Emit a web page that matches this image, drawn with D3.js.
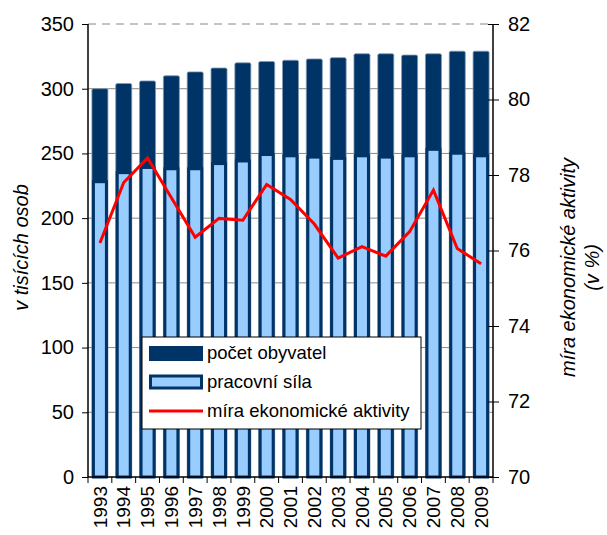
<!DOCTYPE html>
<html lang="cs">
<head>
<meta charset="UTF-8">
<title>Chart</title>
<style>
  body { margin: 0; background: #fff; }
  svg { display: block; font-family: "Liberation Sans", Arial, sans-serif; }
</style>
</head>
<body>
<svg id="chart"></svg>
<script src="https://cdnjs.cloudflare.com/ajax/libs/d3/7.8.5/d3.min.js"></script>
<script>
// data
var years = ["1993","1994","1995","1996","1997","1998","1999","2000","2001","2002","2003","2004","2005","2006","2007","2008","2009"];
var population = [300, 304, 306, 310, 313, 316, 320, 321, 322, 323, 324, 327, 327, 326, 327, 329, 329];
var labourForce = [227, 234, 238, 237, 237, 241, 243, 248, 247, 246, 245, 247, 246, 247, 252, 249, 247];
var activityRate = [76.2, 77.8, 78.45, 77.4, 76.35, 76.85, 76.8, 77.75, 77.35, 76.7, 75.8, 76.1, 75.85, 76.5, 77.6, 76.05, 75.65];
var leftTicks = [0, 50, 100, 150, 200, 250, 300, 350];
var rightTicks = [70, 72, 74, 76, 78, 80, 82];
var legendLabels = ["počet obyvatel", "pracovní síla", "míra ekonomické aktivity"];

var width = 607, height = 535;
var margin = {top: 24, right: 114, bottom: 58, left: 88};
var plotW = width - margin.left - margin.right,
    plotH = height - margin.top - margin.bottom;

var dark = "#003366", light = "#99ccff";

var svg = d3.select("#chart").attr("width", width).attr("height", height);
var g = svg.append("g").attr("transform", "translate(" + margin.left + "," + margin.top + ")");

var x = d3.scaleBand().domain(years).range([0, plotW]).padding(0);
var yL = d3.scaleLinear().domain([0, 350]).range([plotH, 0]);
var yR = d3.scaleLinear().domain([70, 82]).range([plotH, 0]);

// gridlines
g.selectAll(".grid").data(leftTicks.filter(function(d) { return d > 0; }))
  .enter().append("line")
  .attr("x1", 0).attr("x2", plotW)
  .attr("y1", function(d) { return yL(d); }).attr("y2", function(d) { return yL(d); })
  .attr("stroke", "#888").attr("stroke-width", 1)
  .attr("stroke-dasharray", function(d) { return d === 350 ? "8,6" : null; });

var barW = 16;
// population bars
g.selectAll(".pop").data(population).enter().append("rect")
  .attr("x", function(d, i) { return x(years[i]) + x.bandwidth() / 2 - barW / 2; })
  .attr("y", function(d) { return yL(d); })
  .attr("width", barW)
  .attr("height", function(d) { return plotH - yL(d); })
  .attr("fill", dark)
  .attr("stroke", "#7f99b2").attr("stroke-width", 0.8)
  .attr("rx", 1.5);

// labour force bars (light fill starts at the value, dark border around it)
g.selectAll(".lab").data(labourForce).enter().append("rect")
  .attr("x", function(d, i) { return x(years[i]) + x.bandwidth() / 2 - barW / 2 + 1.5; })
  .attr("y", function(d) { return yL(d) - 1.5; })
  .attr("width", barW - 3)
  .attr("height", function(d) { return plotH - yL(d) + 1.5; })
  .attr("fill", light)
  .attr("stroke", dark).attr("stroke-width", 3);

// activity rate line
var line = d3.line()
  .x(function(d, i) { return x(years[i]) + x.bandwidth() / 2; })
  .y(function(d) { return yR(d); });
g.append("path").datum(activityRate)
  .attr("d", line)
  .attr("fill", "none").attr("stroke", "#ff0000").attr("stroke-width", 3)
  .attr("stroke-linejoin", "miter");

// axes
var leftAxis = g.append("g").call(d3.axisLeft(yL).tickValues(leftTicks).tickSize(6).tickPadding(8));
var rightAxis = g.append("g").attr("transform", "translate(" + plotW + ",0)")
  .call(d3.axisRight(yR).tickValues(rightTicks).tickSize(6).tickPadding(9));
rightAxis.selectAll(".tick line").attr("x1", -5);
var bottomAxis = g.append("g").attr("transform", "translate(0," + plotH + ")")
  .call(d3.axisBottom(x).tickSize(0).tickPadding(6));

[leftAxis, rightAxis, bottomAxis].forEach(function(a) {
  a.select(".domain").attr("stroke", "#000").attr("stroke-width", 1.5);
  a.selectAll(".tick line").attr("stroke", "#000");
  a.selectAll("text").attr("fill", "#000").style("font-size", "20px");
});
leftAxis.select(".domain").attr("d", "M0," + plotH + "V0");
rightAxis.select(".domain").attr("d", "M0," + plotH + "V0");
bottomAxis.select(".domain").attr("d", "M0,0H" + plotW);

// x ticks at band boundaries
g.append("g").selectAll("line").data(years.concat(["end"])).enter().append("line")
  .attr("x1", function(d, i) { return i * x.step(); })
  .attr("x2", function(d, i) { return i * x.step(); })
  .attr("y1", plotH).attr("y2", plotH + 6)
  .attr("stroke", "#000");

bottomAxis.selectAll("text")
  .style("font-size", "19px")
  .attr("transform", "rotate(-90)")
  .attr("text-anchor", "end")
  .attr("x", -9).attr("y", 0).attr("dy", "0.35em");

// axis titles
svg.append("text")
  .attr("transform", "translate(28," + (margin.top + plotH / 2 - 3) + ") rotate(-90)")
  .attr("text-anchor", "middle")
  .style("font-size", "20px").style("font-style", "italic")
  .text("v tisících osob");
var rt = svg.append("text")
  .attr("transform", "translate(575," + (margin.top + plotH / 2 + 17) + ") rotate(-90)")
  .attr("text-anchor", "middle")
  .style("font-size", "20px").style("font-style", "italic");
rt.append("tspan").attr("x", 0).attr("dy", 0).text("míra ekonomické aktivity");
rt.append("tspan").attr("x", 0).attr("dy", "1.2em").text("(v %)");

// legend
var lg = svg.append("g").attr("transform", "translate(142,337)");
lg.append("rect").attr("width", 279).attr("height", 92)
  .attr("fill", "#fff").attr("stroke", "#000").attr("stroke-width", 1);
var rowY = [16, 45, 74];
lg.append("rect").attr("x", 7).attr("y", rowY[0] - 7).attr("width", 54).attr("height", 15).attr("fill", dark);
lg.append("rect").attr("x", 8.5).attr("y", rowY[1] - 6).attr("width", 51).attr("height", 12)
  .attr("fill", light).attr("stroke", dark).attr("stroke-width", 3);
lg.append("line").attr("x1", 7).attr("x2", 61).attr("y1", rowY[2]).attr("y2", rowY[2])
  .attr("stroke", "#ff0000").attr("stroke-width", 3);
lg.selectAll(".lt").data(legendLabels).enter().append("text")
  .attr("x", 65).attr("y", function(d, i) { return rowY[i]; })
  .attr("dy", "0.35em")
  .style("font-size", "18.5px")
  .text(function(d) { return d; });
</script>
</body>
</html>
